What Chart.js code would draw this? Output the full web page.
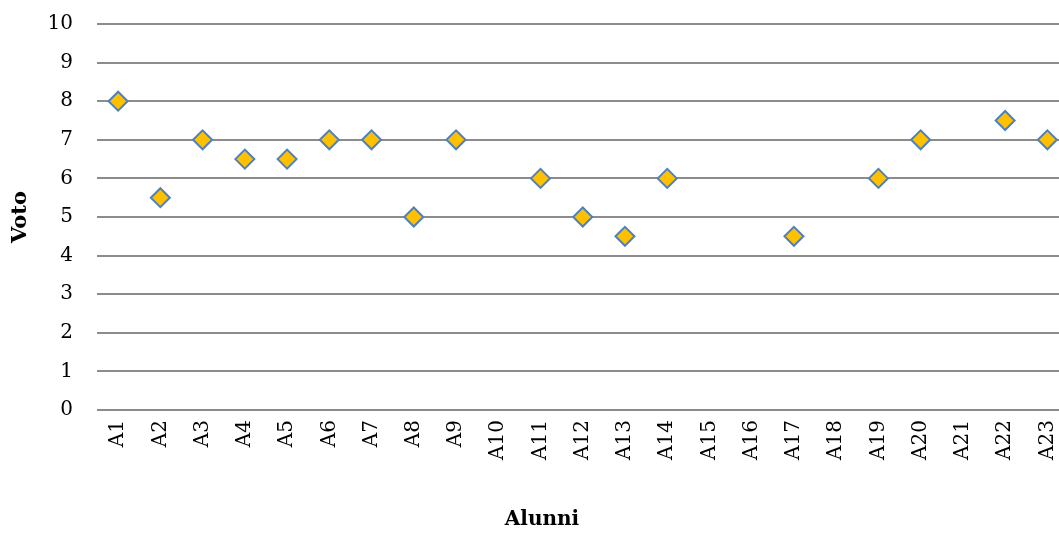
<!DOCTYPE html>
<html>
<head>
<meta charset="utf-8">
<script src="https://cdn.jsdelivr.net/npm/chart.js@4/dist/chart.umd.min.js"></script>
<style>
  html, body { margin: 0; padding: 0; background: #fff; overflow: hidden; }
  .wrap { position: relative; width: 1080px; height: 537px; }
</style>
</head>
<body>
<div class="wrap"><canvas id="scatterChart"></canvas></div>
<script>
// Data
const alunni = ['A1', 'A2', 'A3', 'A4', 'A5', 'A6', 'A7', 'A8', 'A9', 'A10', 'A11', 'A12',
    'A13', 'A14', 'A15', 'A16', 'A17', 'A18', 'A19', 'A20', 'A21', 'A22', 'A23'];
const voti = [8, 5.5, 7, 6.5, 6.5, 7, 7, 5, 7, null, 6, 5,
    4.5, 6, null, null, 4.5, null, 6, 7, null, 7.5, 7];
const yTicks = [0, 1, 2, 3, 4, 5, 6, 7, 8, 9, 10];

const fontFamily = '"DejaVu Serif", "Liberation Serif", serif';

// x-axis title drawn by hand so it sits where the original had it
const xTitlePlugin = {
    id: 'xTitle',
    afterDraw(chart) {
        const ctx = chart.ctx;
        ctx.save();
        ctx.font = 'bold 20px ' + fontFamily;
        ctx.fillStyle = '#000';
        ctx.textAlign = 'center';
        ctx.textBaseline = 'middle';
        ctx.fillText('Alunni', 542, 520);
        ctx.restore();
    }
};

new Chart(document.getElementById('scatterChart'), {
    type: 'line',
    data: {
        labels: alunni,
        datasets: [{
            label: 'Voto',
            data: voti,
            showLine: false,
            pointStyle: 'rectRot',
            pointRadius: 9.5,
            pointHoverRadius: 9.5,
            pointBackgroundColor: '#FFC000',
            pointBorderColor: '#4F81BD',
            pointBorderWidth: 2
        }]
    },
    options: {
        responsive: true,
        maintainAspectRatio: false,
        animation: false,
        layout: { padding: { top: 24, right: 11, left: 0, bottom: 0 } },
        plugins: {
            legend: { display: false },
            tooltip: { enabled: false }
        },
        scales: {
            x: {
                offset: true,
                grid: { display: false, drawTicks: false },
                border: { display: false },
                ticks: {
                    color: '#000',
                    font: { family: fontFamily, size: 20 },
                    minRotation: 90,
                    maxRotation: 90,
                    autoSkip: false,
                    padding: 10
                },
                afterFit(scale) {
                    scale.height = 127;
                    scale.paddingLeft = 0;
                    scale.paddingRight = 0;
                }
            },
            y: {
                min: 0,
                max: 10,
                afterBuildTicks(scale) {
                    scale.ticks = yTicks.map(v => ({ value: v }));
                },
                grid: {
                    color: '#8C8C8C',
                    lineWidth: 2,
                    drawTicks: false
                },
                border: { display: false },
                ticks: {
                    color: '#000',
                    font: { family: fontFamily, size: 20 },
                    padding: 24
                },
                title: {
                    display: true,
                    text: 'Voto',
                    color: '#000',
                    font: { family: fontFamily, size: 21, weight: 'bold' },
                    padding: { top: 8, bottom: 0 }
                },
                afterFit(scale) {
                    scale.width = 97;
                    scale.paddingTop = 0;
                    scale.paddingBottom = 0;
                }
            }
        }
    },
    plugins: [xTitlePlugin]
});
</script>
</body>
</html>
